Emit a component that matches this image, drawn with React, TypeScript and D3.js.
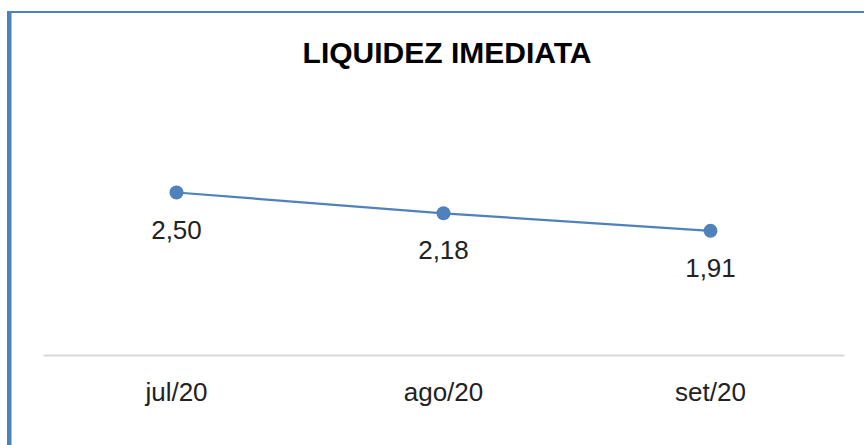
import React, { useEffect, useRef } from "react";
import * as d3 from "d3";

const months = ["jul/20", "ago/20", "set/20"];
const liquidez = [2.5, 2.18, 1.91];
const chartTitle = "LIQUIDEZ IMEDIATA";

const W = 864;
const H = 445;
const BLUE = "#4f81bd";

const App = () => {
  const chartRef = useRef<SVGSVGElement | null>(null);

  useEffect(() => {
    const svg = d3.select(chartRef.current);
    svg.selectAll("*").remove();

    // frame (only left and top edges are visible)
    svg
      .append("rect")
      .attr("x", 7)
      .attr("y", 11)
      .attr("width", 4.5)
      .attr("height", H - 11)
      .attr("fill", BLUE);
    svg
      .append("rect")
      .attr("x", 7)
      .attr("y", 11)
      .attr("width", W - 7)
      .attr("height", 2)
      .attr("fill", BLUE);

    svg
      .append("text")
      .attr("x", 447)
      .attr("y", 63)
      .attr("text-anchor", "middle")
      .attr("font-family", "'Liberation Sans', Arial, sans-serif")
      .attr("font-weight", "bold")
      .attr("font-size", 30)
      .attr("fill", "#000")
      .text(chartTitle);

    // scales
    const x = d3.scaleBand().domain(months).range([43, 844]);
    const y = d3.scaleLinear().domain([0, 3]).range([355, 160]);
    const cx = (d: string) => (x(d) ?? 0) + x.bandwidth() / 2;

    // category axis
    const xAxis = svg
      .append("g")
      .attr("transform", "translate(0,355)")
      .call(d3.axisBottom(x).tickSize(0).tickPadding(0));
    xAxis.select(".domain").attr("stroke", "#d9d9d9").attr("stroke-width", 2);
    xAxis
      .selectAll("text")
      .attr("dy", null)
      .attr("y", 46)
      .attr("font-family", "'Liberation Sans', Arial, sans-serif")
      .attr("font-size", 26)
      .attr("fill", "#222");

    // line
    const line = d3
      .line<number>()
      .x((d, i) => cx(months[i]))
      .y((d) => y(d));

    svg
      .append("path")
      .datum(liquidez)
      .attr("d", line)
      .attr("fill", "none")
      .attr("stroke", BLUE)
      .attr("stroke-width", 2.25);

    svg
      .selectAll(".dot")
      .data(liquidez)
      .join("circle")
      .attr("class", "dot")
      .attr("cx", (d, i) => cx(months[i]))
      .attr("cy", (d) => y(d))
      .attr("r", 7)
      .attr("fill", BLUE);

    // data labels below points
    svg
      .selectAll(".lbl")
      .data(liquidez)
      .join("text")
      .attr("class", "lbl")
      .attr("x", (d, i) => cx(months[i]))
      .attr("y", (d) => y(d) + 46)
      .attr("text-anchor", "middle")
      .attr("font-family", "'Liberation Sans', Arial, sans-serif")
      .attr("font-size", 26)
      .attr("fill", "#222")
      .text((d) => d3.format(".2f")(d).replace(".", ","));
  }, []);

  return (
    <svg
      ref={chartRef}
      width={W}
      height={H}
      style={{ position: "absolute", left: 0, top: 0, background: "#fff" }}
    />
  );
};

export default App;
